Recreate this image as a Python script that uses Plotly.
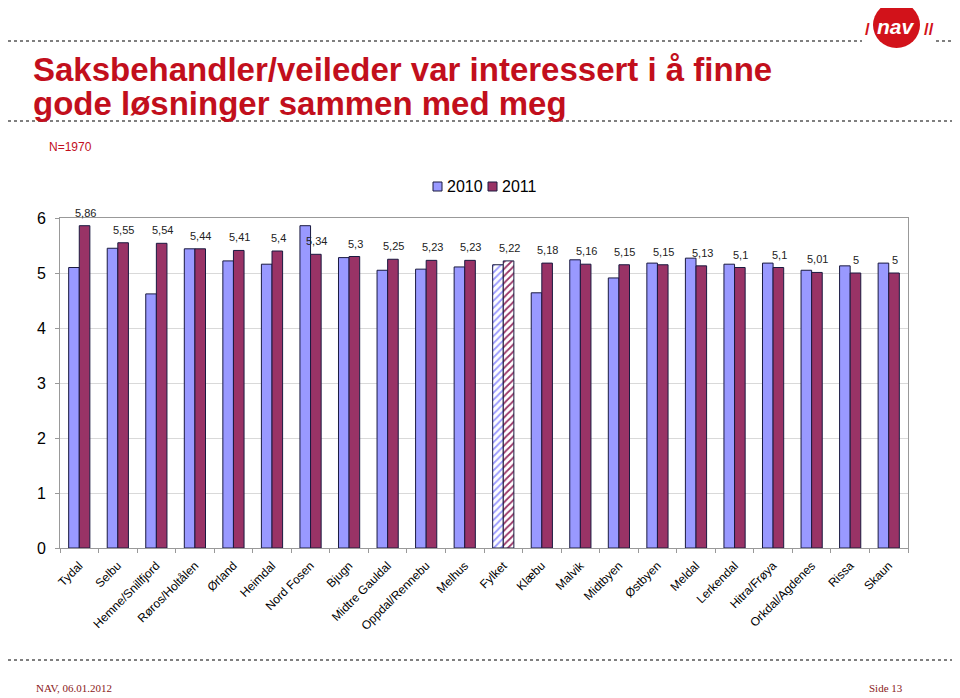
import plotly.graph_objects as go

categories = ["Tydal", "Selbu", "Hemne/Snillfjord", "Røros/Holtålen", "Ørland", "Heimdal",
              "Nord Fosen", "Bjugn", "Midtre Gauldal", "Oppdal/Rennebu", "Melhus", "Fylket",
              "Klæbu", "Malvik", "Midtbyen", "Østbyen", "Meldal", "Lerkendal", "Hitra/Frøya",
              "Orkdal/Agdenes", "Rissa", "Skaun"]
values_2010 = [5.10, 5.45, 4.62, 5.44, 5.22, 5.16, 5.86, 5.28, 5.05, 5.07, 5.11, 5.15,
               4.64, 5.24, 4.91, 5.18, 5.27, 5.16, 5.18, 5.05, 5.13, 5.18]
values_2011 = [5.86, 5.55, 5.54, 5.44, 5.41, 5.4, 5.34, 5.3, 5.25, 5.23, 5.23, 5.22,
               5.18, 5.16, 5.15, 5.15, 5.13, 5.1, 5.1, 5.01, 5, 5]
series_names = ["2010", "2011"]
y_ticks = [0, 1, 2, 3, 4, 5, 6]
highlight = "Fylket"

C2010 = "#9999FF"
C2011 = "#993366"
EDGE = "#1a1a40"
RED = "#C20F1C"

OFF = 8  # page body margin
W, H = 960 - OFF, 698 - OFF
L, R, T, B = 60, 908, 218, 548  # plot area in page pixels


def px(x):
    return (x - L) / (R - L)


def py(y):
    return (B - y) / (B - T)


def fmt(v):
    return f"{v:g}".replace(".", ",")


pattern_shapes = ["/" if c == highlight else "" for c in categories]

fig = go.Figure()
for name, vals, col in [(series_names[0], values_2010, C2010), (series_names[1], values_2011, C2011)]:
    fig.add_trace(go.Bar(
        name=name, x=categories, y=vals,
        marker=dict(color=col, line=dict(color=EDGE, width=1),
                    pattern=dict(shape=pattern_shapes, fgcolor=col, bgcolor="white",
                                 size=5, solidity=0.35, fillmode="replace")),
        hoverinfo="x+y", showlegend=False,
    ))

shapes = []
# dotted rules
for yy, x0, x1 in [(41, 8, 862), (41, 936, 960), (121, 8, 960), (660, 8, 960)]:
    shapes.append(dict(type="line", xref="paper", yref="paper",
                       x0=px(x0), x1=px(x1), y0=py(yy), y1=py(yy),
                       line=dict(color="#7f7f7f", width=2, dash="dot")))
# NAV logo circle
shapes.append(dict(type="circle", xref="paper", yref="paper",
                   x0=px(873), x1=px(920), y0=py(48), y1=py(2),
                   fillcolor="#D2121A", line=dict(width=0)))
# legend swatches
legend_items = [(433, series_names[0], C2010), (488, series_names[1], C2011)]
for lx, _, col in legend_items:
    shapes.append(dict(type="rect", xref="paper", yref="paper",
                       x0=px(lx), x1=px(lx + 9), y0=py(191), y1=py(182),
                       fillcolor=col, line=dict(color=EDGE, width=1)))

annotations = [
    dict(text="<b>Saksbehandler/veileder var interessert i å finne</b>",
         xref="paper", yref="paper", x=px(31), y=py(69), xanchor="left", yanchor="middle",
         showarrow=False, font=dict(family="Liberation Sans, Arial", size=33, color=RED)),
    dict(text="<b>gode løsninger sammen med meg</b>",
         xref="paper", yref="paper", x=px(31), y=py(103), xanchor="left", yanchor="middle",
         showarrow=False, font=dict(family="Liberation Sans, Arial", size=33, color=RED)),
    dict(text="N=1970", xref="paper", yref="paper", x=px(47), y=py(147),
         xanchor="left", yanchor="middle", showarrow=False,
         font=dict(family="Liberation Sans, Arial", size=12, color=RED)),
    dict(text="NAV, 06.01.2012", xref="paper", yref="paper", x=px(34), y=py(688),
         xanchor="left", yanchor="middle", showarrow=False,
         font=dict(family="Liberation Serif, Times New Roman", size=11, color="#8B1A1A")),
    dict(text="Side 13", xref="paper", yref="paper", x=px(905), y=py(688),
         xanchor="right", yanchor="middle", showarrow=False,
         font=dict(family="Liberation Serif, Times New Roman", size=11, color="#8B1A1A")),
    dict(text="<b><i>nav</i></b>", xref="paper", yref="paper", x=px(896), y=py(27),
         xanchor="center", yanchor="middle", showarrow=False,
         font=dict(family="Liberation Sans, Arial", size=21, color="white")),
    dict(text="<b>/</b>", xref="paper", yref="paper", x=px(867), y=py(29),
         xanchor="center", yanchor="middle", showarrow=False,
         font=dict(family="Liberation Sans, Arial", size=17, color="#D2121A")),
    dict(text="<b>//</b>", xref="paper", yref="paper", x=px(929), y=py(29),
         xanchor="center", yanchor="middle", showarrow=False,
         font=dict(family="Liberation Sans, Arial", size=17, color="#D2121A")),
]
for lx, name, _ in legend_items:
    annotations.append(dict(text=name, xref="paper", yref="paper", x=px(lx + 12), y=py(186),
                            xanchor="left", yanchor="middle", showarrow=False,
                            font=dict(family="Liberation Sans, Arial", size=16, color="#000000")))
# value labels above 2011 bars
for c, v in zip(categories, values_2011):
    annotations.append(dict(text=fmt(v), x=c, y=v, xref="x", yref="y",
                            xshift=6, yshift=13, xanchor="center", yanchor="middle",
                            showarrow=False,
                            font=dict(family="Liberation Sans, Arial", size=11, color="#222222")))

fig.update_layout(
    width=W, height=H,
    margin=dict(l=L - OFF, r=960 - R, t=T - OFF, b=698 - B),
    paper_bgcolor="white", plot_bgcolor="white",
    barmode="group", bargap=0.45, bargroupgap=0,
    font=dict(family="Liberation Sans, Arial", color="#000000"),
    showlegend=False,
    shapes=shapes, annotations=annotations,
)
fig.update_xaxes(
    type="category", tickangle=-45, tickson="boundaries", ticks="outside", ticklen=4,
    tickcolor="#999999", showline=True, linecolor="#999999", mirror=True,
    ticklabelstandoff=5,
    showgrid=False, tickfont=dict(size=12, color="#000000"),
)
fig.update_yaxes(
    range=[0, 6], tickvals=y_ticks, ticktext=[str(t) for t in y_ticks],
    ticks="outside", ticklen=4, tickcolor="#999999", ticklabelstandoff=6,
    showline=True, linecolor="#999999", mirror=True,
    showgrid=True, gridcolor="#D9D9D9", zeroline=False,
    tickfont=dict(size=16, color="#000000"),
)

fig.write_html("out.html")
